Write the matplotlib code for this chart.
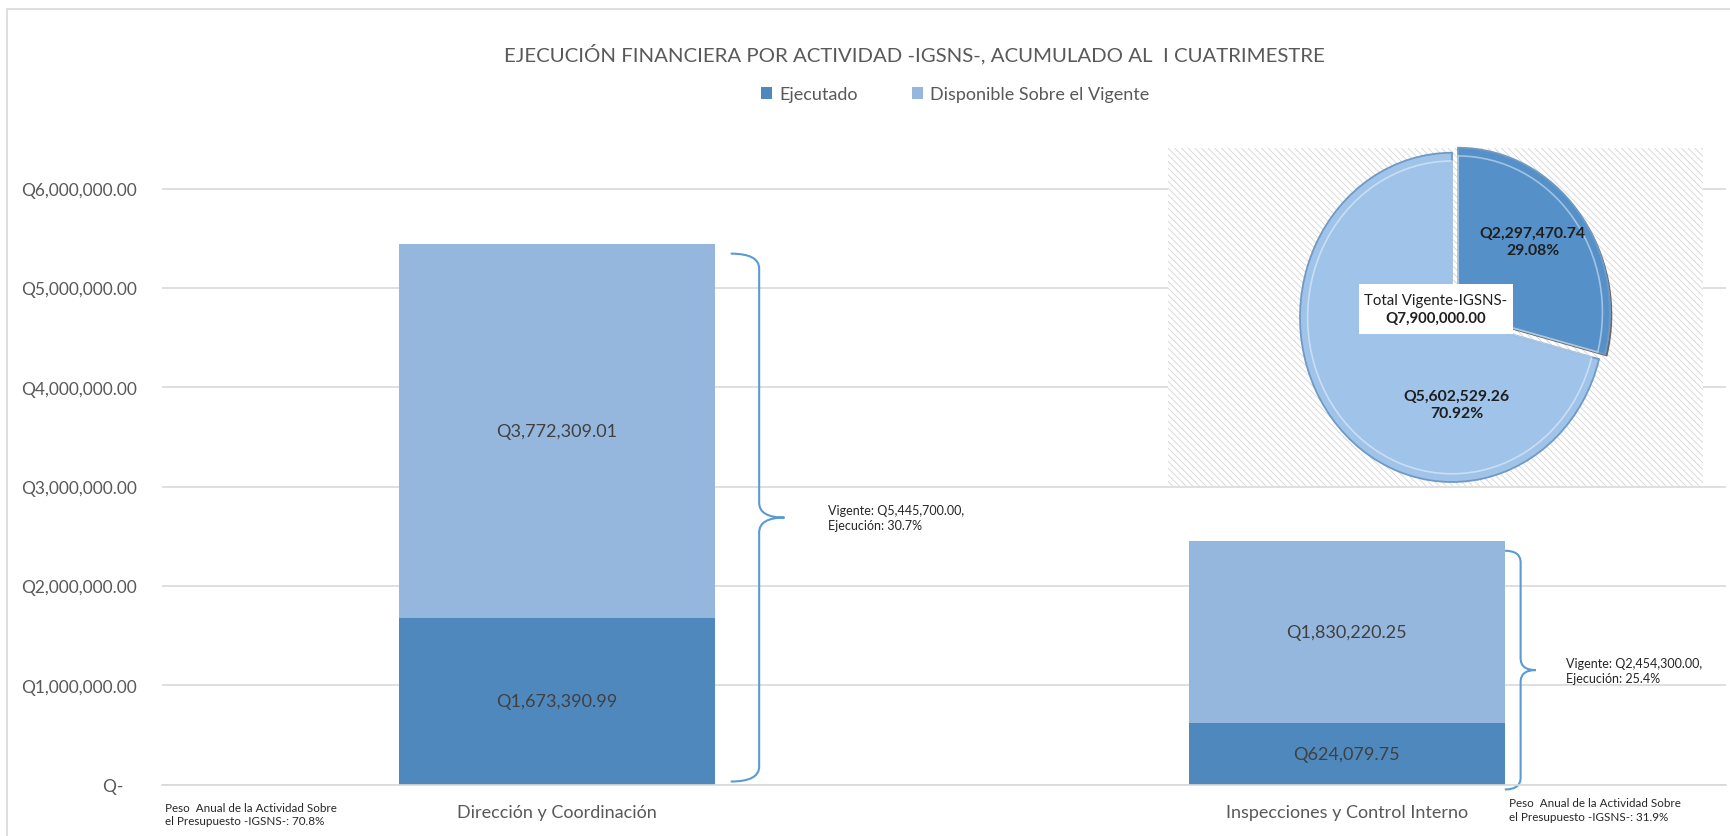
"""Ejecución financiera por actividad -IGSNS-: barras apiladas con pastel del total."""

import matplotlib

matplotlib.use("Agg")

import matplotlib.pyplot as plt
import numpy as np
from matplotlib.patches import PathPatch, Rectangle
from matplotlib.path import Path
from matplotlib.ticker import FuncFormatter, MultipleLocator

plt.rcParams["font.family"] = ["Lato", "DejaVu Sans"]
plt.rcParams["hatch.linewidth"] = 0.6

TITLE = "EJECUCIÓN FINANCIERA POR ACTIVIDAD -IGSNS-, ACUMULADO AL  I CUATRIMESTRE"
CATEGORIES = ["Dirección y Coordinación", "Inspecciones y Control Interno"]
SERIES = ["Ejecutado", "Disponible Sobre el Vigente"]
EJECUTADO = [1673390.99, 624079.75]
DISPONIBLE = [3772309.01, 1830220.25]
VIGENTE = [5445700.00, 2454300.00]
EJECUCION_PCT = [30.7, 25.4]
PESO_PCT = [70.8, 31.9]
TOTAL_LABEL = "Total Vigente-IGSNS-"

COLORS = {
    "dark": "#4F88BC",
    "light": "#95B7DD",
    "pie_dark": "#5591C8",
    "pie_light": "#A0C3E9",
    "grid": "#D9D9D9",
    "muted": "#595959",
    "ink": "#404040",
    "brace": "#5B9BD5",
}


def money(value):
    return f"Q{value:,.2f}"


def draw_brace(ax, x0, x1, x2, ytop, ybot, ry):
    ymid = (ytop + ybot) / 2
    verts = [
        (x0, ytop), (x1, ytop), (x1, ytop - ry),
        (x1, ymid + ry), (x1, ymid), (x2, ymid),
        (x2, ymid), (x1, ymid), (x1, ymid - ry),
        (x1, ybot + ry), (x1, ybot), (x0, ybot),
    ]
    codes = [
        Path.MOVETO, Path.CURVE3, Path.CURVE3,
        Path.LINETO, Path.CURVE3, Path.CURVE3,
        Path.MOVETO, Path.CURVE3, Path.CURVE3,
        Path.LINETO, Path.CURVE3, Path.CURVE3,
    ]
    ax.add_patch(PathPatch(Path(verts, codes), fill=False,
                           edgecolor=COLORS["brace"], linewidth=1.5, clip_on=False))
    return ymid


fig = plt.figure(figsize=(17.31, 8.37), dpi=100)
fig.patches.append(Rectangle((7 / 1731, -0.02), 1.05, 1.02 - 10 / 837,
                             transform=fig.transFigure, fill=False,
                             edgecolor=COLORS["grid"], linewidth=1.2))

fig.text(0.528, 0.936, TITLE, ha="center", va="center", fontsize=14.7, color=COLORS["muted"])

ax = fig.add_axes([0.0936, 0.0615, 0.9035, 0.7475])
x = np.arange(len(CATEGORIES))
width = 0.4
bars_e = ax.bar(x, EJECUTADO, width=width, color=COLORS["dark"], zorder=2)
bars_d = ax.bar(x, DISPONIBLE, bottom=EJECUTADO, width=width, color=COLORS["light"], zorder=2)

ax.set_xlim(-0.5, 1.48)
ax.set_ylim(0, 6.3e6)
ax.yaxis.set_major_locator(MultipleLocator(1e6))
ax.yaxis.set_major_formatter(FuncFormatter(lambda v, _: "Q-   " if v == 0 else money(v)))
ax.grid(axis="y", color=COLORS["grid"], linewidth=1.2)
ax.set_axisbelow(True)
for side in ("top", "right", "left"):
    ax.spines[side].set_visible(False)
ax.spines["bottom"].set_color(COLORS["grid"])
ax.spines["bottom"].set_linewidth(1.2)
ax.tick_params(axis="y", length=0, pad=18, labelsize=12.5, labelcolor=COLORS["muted"])
ax.tick_params(axis="x", length=0, pad=14, labelsize=13, labelcolor=COLORS["muted"])
ax.set_xticks(x, CATEGORIES)

for xi, e, d in zip(x, EJECUTADO, DISPONIBLE):
    ax.text(xi, e / 2, money(e), ha="center", va="center", fontsize=13, color=COLORS["ink"], zorder=3)
    ax.text(xi, e + d / 2, money(d), ha="center", va="center", fontsize=13, color=COLORS["ink"], zorder=3)

# brace offsets (data units from bar edge) and text gap
brace_style = [
    {"gap": 0.02, "stem": 0.056, "tip": 0.088, "ry": 0.15e6, "text": 0.143, "bottom": 0.03e6},
    {"gap": 0.0, "stem": 0.02, "tip": 0.039, "ry": 0.12e6, "text": 0.078, "bottom": -0.05e6},
]
for xi, vig, pct, st in zip(x, VIGENTE, EJECUCION_PCT, brace_style):
    edge = xi + width / 2
    ymid = draw_brace(ax, edge + st["gap"], edge + st["stem"], edge + st["tip"],
                      vig - 0.1e6, st["bottom"], st["ry"])
    ax.text(edge + st["text"], ymid, f"Vigente: {money(vig)},\nEjecución: {pct}%",
            ha="left", va="center", fontsize=9, color="#262626", linespacing=1.3)

fig.text(0.0953, 0.0263, f"Peso  Anual de la Actividad Sobre\nel Presupuesto -IGSNS-: {PESO_PCT[0]}%",
         ha="left", va="center", fontsize=8.4, color="#262626", linespacing=1.3)
fig.text(0.8717, 0.032, f"Peso  Anual de la Actividad Sobre\nel Presupuesto -IGSNS-: {PESO_PCT[1]}%",
         ha="left", va="center", fontsize=8.4, color="#262626", linespacing=1.3)

fig.legend([bars_e, bars_d], SERIES, loc="center", bbox_to_anchor=(0.552, 0.886), ncol=2,
           frameon=False, handlelength=0.6, handleheight=0.6, handletextpad=0.4,
           columnspacing=3.0, fontsize=13, labelcolor=COLORS["muted"])

# pie of totals
pie_vals = [sum(EJECUTADO), sum(DISPONIBLE)]
total = sum(pie_vals)
pax = fig.add_axes([0.6748, 0.4182, 0.309, 0.404])
pax.add_patch(Rectangle((0, 0), 1, 1, transform=pax.transAxes, facecolor="white",
                        edgecolor="#D4D4D4", linewidth=0, hatch="\\\\\\\\\\", zorder=0))
pax.pie(pie_vals, center=(0.015, -0.015), startangle=90, counterclock=False, explode=[0.05, 0],
        colors=["#3A3A3A", "none"], wedgeprops={"linewidth": 0, "alpha": 0.75})
pax.pie(pie_vals, startangle=90, counterclock=False, explode=[0.05, 0],
        colors=[COLORS["pie_dark"], COLORS["pie_light"]],
        wedgeprops={"edgecolor": "#6E9AC6", "linewidth": 1.3})
pax.pie(pie_vals, radius=0.95, startangle=90, counterclock=False, explode=[0.05, 0],
        colors=["none", "none"],
        wedgeprops={"edgecolor": (1, 1, 1, 0.45), "linewidth": 1.2, "fill": False})
pax.set_aspect("auto")
pax.set_xlim(-1.868, 1.651)
pax.set_ylim(-1.024, 1.03)
pax.axis("off")

pct = [v / total * 100 for v in pie_vals]
pax.text(0.53, 0.46, f"{money(pie_vals[0])}\n{pct[0]:.2f}%", ha="center", va="center",
         fontsize=11.3, fontweight="bold", color="#1F1F1F", linespacing=1.3)
pax.text(0.03, -0.53, f"{money(pie_vals[1])}\n{pct[1]:.2f}%", ha="center", va="center",
         fontsize=11.3, fontweight="bold", color="#1F1F1F", linespacing=1.3)

# white label box behind the total
pax.add_patch(Rectangle((-0.105 - 0.505, 0.05 - 0.152), 1.01, 0.304,
                        facecolor="white", edgecolor="none", zorder=4))
pax.annotate(TOTAL_LABEL, (-0.105, 0.05), xytext=(0, 6.5), textcoords="offset points",
             ha="center", va="center", fontsize=10.8, color="#1F1F1F", zorder=5)
pax.annotate(money(total), (-0.105, 0.05), xytext=(0, -6.5), textcoords="offset points",
             ha="center", va="center", fontsize=10.8, fontweight="bold", color="#1F1F1F", zorder=5)

fig.savefig("out.png", dpi=100)
